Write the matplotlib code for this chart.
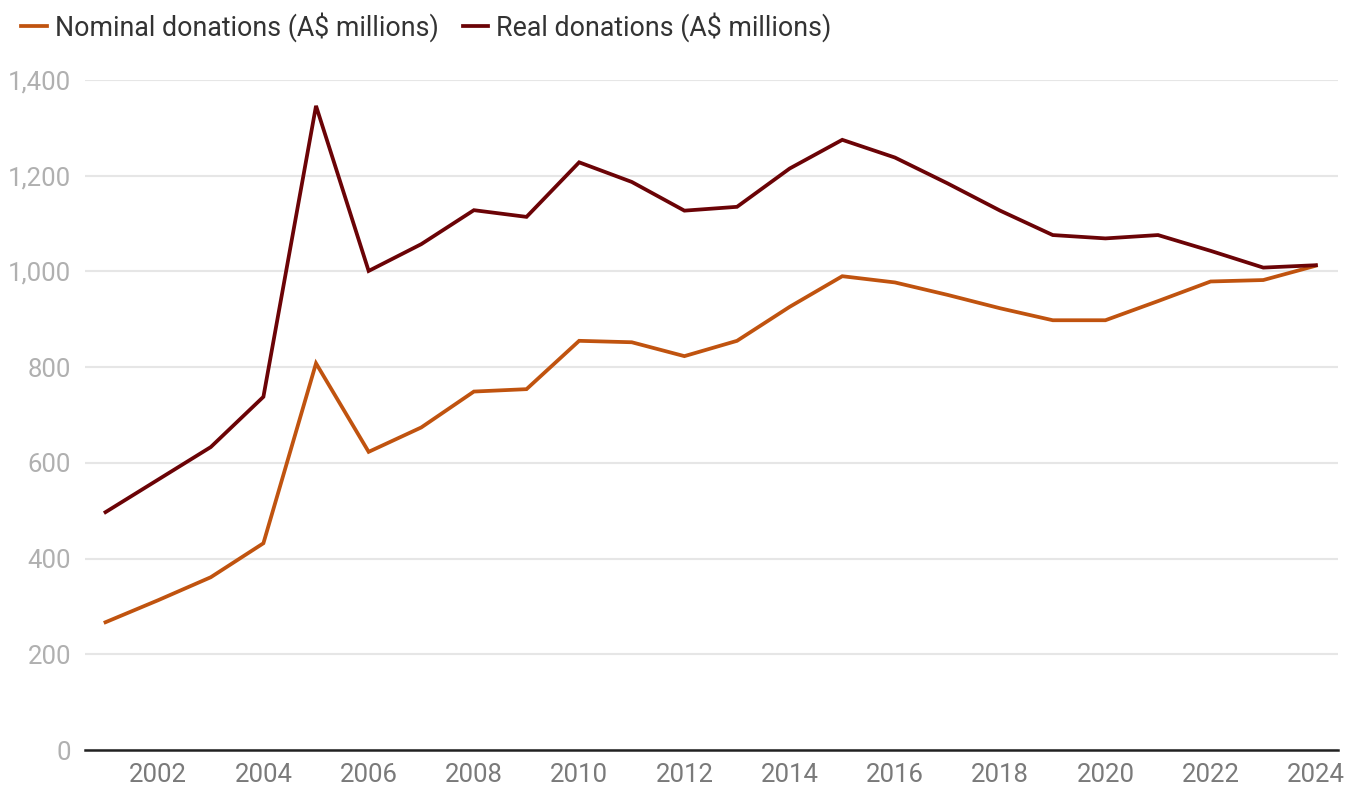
import matplotlib.pyplot as plt
from matplotlib.ticker import FuncFormatter

plt.rcParams['font.family'] = ['Roboto', 'DejaVu Sans']

years = list(range(2001, 2025))
nominal = [267, 313, 361, 432, 808, 623, 674, 749, 754, 855, 852, 823, 855, 926,
           990, 977, 951, 923, 898, 898, 938, 979, 982, 1012]
real = [497, 565, 633, 738, 1346, 1001, 1057, 1128, 1114, 1228, 1187, 1127, 1135, 1215,
        1275, 1238, 1184, 1127, 1076, 1069, 1076, 1043, 1008, 1013]
xticks = list(range(2002, 2025, 2))
yticks = [0, 200, 400, 600, 800, 1000, 1200, 1400]

fig = plt.figure(figsize=(13.64, 7.91), dpi=100)
ax = fig.add_axes([85 / 1364, 1 - 750 / 791, (1338 - 85) / 1364, (750 - 80) / 791])

ax.plot(years, nominal, color='#c0530f', lw=2.7, label='Nominal donations (A$ millions)',
        solid_joinstyle='miter')
ax.plot(years, real, color='#6b0306', lw=2.7, label='Real donations (A$ millions)',
        solid_joinstyle='miter')

ax.set_xlim(2000.61, 2024.42)
ax.set_ylim(0, 1400)
ax.set_yticks(yticks)
ax.set_xticks(xticks)
ax.yaxis.set_major_formatter(FuncFormatter(lambda v, p: f'{int(v):,}'))
ax.grid(axis='y', color='#e6e6e6', lw=1.5)
ax.set_axisbelow(True)
for s in ['top', 'right', 'left']:
    ax.spines[s].set_visible(False)
ax.spines['bottom'].set_color('#222222')
ax.spines['bottom'].set_linewidth(1.8)
ax.tick_params(axis='both', length=0)
ax.tick_params(axis='y', labelsize=18.5, labelcolor='#b0b0b0', pad=10)
ax.tick_params(axis='x', labelsize=18.5, labelcolor='#7a7a7a', pad=9)

fig.legend(loc='upper left', bbox_to_anchor=(-0.002, 1.015), ncol=2, frameon=False,
           fontsize=19.3, handlelength=0.95, handletextpad=0.3, columnspacing=0.9,
           labelcolor='#333333')

fig.savefig('out.png', dpi=100)
